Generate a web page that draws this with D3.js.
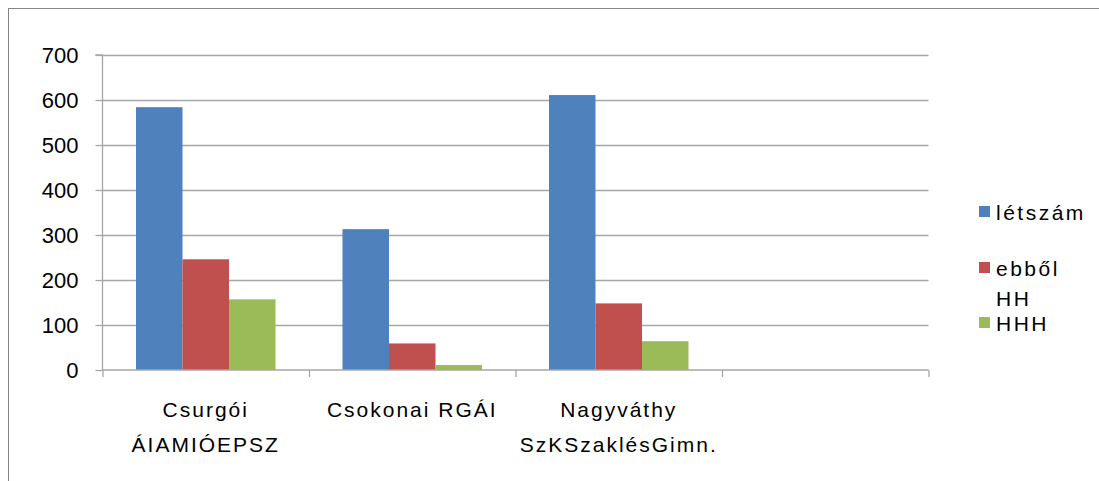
<!DOCTYPE html>
<html><head><meta charset="utf-8">
<script src="https://cdn.jsdelivr.net/npm/d3@7"></script>
<style>body{margin:0;background:#fff}svg{display:block}text{font-family:"Liberation Sans",Arial,sans-serif;fill:#000}</style>
</head><body><svg id="c" width="1099" height="481"></svg>
<script>
const categories = ["Csurgói\nÁIAMIÓEPSZ", "Csokonai RGÁI", "Nagyváthy\nSzKSzaklésGimn.", ""];
const seriesNames = ["létszám", "ebből\nHH", "HHH"];
const letszam = [584, 313, 611, null];
const ebbolHH = [246, 59, 148, null];
const hhh = [157, 11, 64, null];
const yTicks = [0, 100, 200, 300, 400, 500, 600, 700];
const colors = ["#4F81BD", "#C0504D", "#9BBB59"];

const series = [letszam, ebbolHH, hhh];
const svg = d3.select("#c");
// outer border
svg.append("rect").attr("x", 8.5).attr("y", 8.5).attr("width", 1100).attr("height", 480)
  .attr("fill", "none").attr("stroke", "#868686").attr("stroke-width", 1);

const L = 102.5, R = 928.5, T = 55, B = 370;
const y = d3.scaleLinear().domain([0, 700]).range([B, T]);
const x0 = d3.scaleBand().domain(d3.range(categories.length)).range([L, R]).paddingInner(0).paddingOuter(0);
const x1 = d3.scaleBand().domain(d3.range(series.length)).range([0, x0.bandwidth()]).paddingInner(0).paddingOuter(0.72);

// gridlines
svg.append("g").selectAll("line").data(yTicks.filter(d => d > 0)).join("line")
  .attr("x1", L).attr("x2", R).attr("y1", d => Math.round(y(d)) + 0.5).attr("y2", d => Math.round(y(d)) + 0.5)
  .attr("stroke", "#a6a6a6").attr("stroke-width", 1.3);

// bars
series.forEach((s, si) => {
  svg.append("g").selectAll("rect").data(s.map((v, i) => ({v, i})).filter(d => d.v != null)).join("rect")
    .attr("x", d => x0(d.i) + x1(si)).attr("width", x1.bandwidth())
    .attr("y", d => y(d.v)).attr("height", d => y(0) - y(d.v)).attr("fill", colors[si]);
});

// y axis
const yAxis = d3.axisLeft(y).tickValues(yTicks).tickSize(7).tickPadding(17).tickFormat(d3.format("d"));
const gy = svg.append("g").attr("transform", `translate(${L},0)`).call(yAxis);
gy.select(".domain").attr("stroke", "#a6a6a6").attr("stroke-width", 1.3).attr("d", `M-7,${T}H0V${B + 0}`);
gy.selectAll(".tick line").attr("stroke", "#a6a6a6").attr("stroke-width", 1.3);
gy.selectAll(".tick text").attr("font-size", 22).attr("font-family", "Liberation Sans").attr("fill", "#000").attr("dy", "0.36em");

// x axis
const xb = d3.scaleLinear().domain([0, categories.length]).range([L, R]);
const xAxis = d3.axisBottom(xb).tickValues(d3.range(categories.length + 1)).tickSize(7).tickFormat("");
const gx = svg.append("g").attr("transform", `translate(0,${B})`).call(xAxis);
gx.select(".domain").attr("stroke", "#a6a6a6").attr("stroke-width", 1.3).attr("d", `M${L},0H${R}`);
gx.selectAll(".tick line").attr("stroke", "#a6a6a6").attr("stroke-width", 1.3);

// category labels
categories.forEach((c, i) => {
  const cx = x0(i) + x0.bandwidth() / 2;
  const t = svg.append("text").attr("x", cx).attr("y", 417)
    .attr("text-anchor", "middle").attr("font-size", 21).attr("letter-spacing", 2);
  c.split("\n").forEach((ln, k) => t.append("tspan").attr("x", cx).attr("dy", k ? 35 : 0).text(ln));
});

// legend
const legY = [212, 268, 323];
seriesNames.forEach((n, i) => {
  const lines = n.split("\n");
  svg.append("rect").attr("x", 979).attr("y", legY[i] - 6).attr("width", 11).attr("height", 11).attr("fill", colors[i]);
  const t = svg.append("text").attr("x", 996).attr("y", legY[i] + 8).attr("font-size", 21).attr("letter-spacing", 2.5);
  lines.forEach((ln, k) => t.append("tspan").attr("x", 996).attr("dy", k ? 30 : 0).text(ln));
});
</script></body></html>
